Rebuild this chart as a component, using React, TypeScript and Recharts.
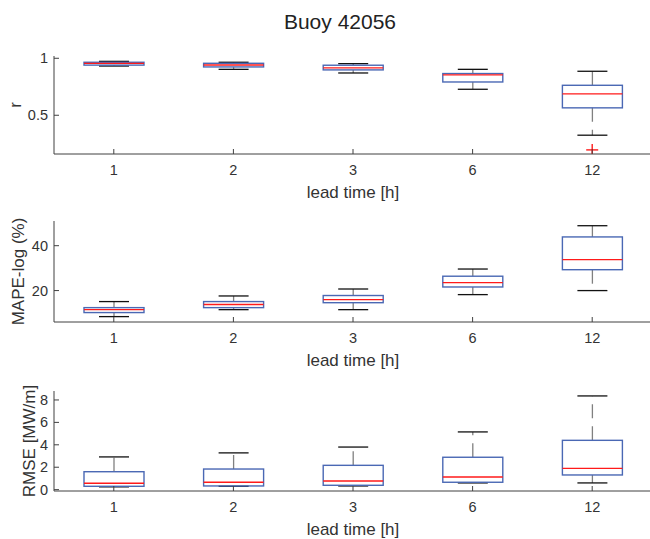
import { Bar, ComposedChart, Scatter, XAxis, YAxis } from "recharts";

const categories = ["1", "2", "3", "6", "12"];

// correlation r
const rMin = [0.932, 0.903, 0.871, 0.728, 0.325];
const rQ1 = [0.94, 0.924, 0.898, 0.792, 0.565];
const rMed = [0.956, 0.941, 0.915, 0.854, 0.687];
const rQ3 = [0.965, 0.956, 0.939, 0.866, 0.763];
const rMax = [0.973, 0.965, 0.953, 0.903, 0.886];
const rOut = [null, null, null, null, 0.196];

// MAPE-log (%)
const mapeMin = [8.4, 11.5, 11.5, 18.2, 20.0];
const mapeQ1 = [10.2, 12.4, 14.6, 21.6, 29.3];
const mapeMed = [11.5, 13.8, 16.0, 23.5, 33.8];
const mapeQ3 = [12.4, 15.1, 17.8, 26.4, 43.9];
const mapeMax = [15.1, 17.6, 20.7, 29.6, 48.9];
const mapeOut = [null, null, null, null, null];

// RMSE [MW/m]
const rmseMin = [0.25, 0.3, 0.33, 0.6, 0.6];
const rmseQ1 = [0.3, 0.33, 0.39, 0.66, 1.31];
const rmseMed = [0.57, 0.66, 0.77, 1.13, 1.9];
const rmseQ3 = [1.6, 1.84, 2.17, 2.89, 4.4];
const rmseMax = [2.92, 3.28, 3.8, 5.15, 8.36];
const rmseOut = [null, null, null, null, null];

const rTicks = [0.5, 1];
const mapeTicks = [20, 40];
const rmseTicks = [0, 2, 4, 6, 8];

const AXIS = "#404040";
const TEXT = "#333333";
const BOX = "#4a68b4";

const build = (mn: number[], q1: number[], md: number[], q3: number[], mx: number[], out: (number | null)[]) =>
  categories.map((cat, i) => ({
    cat,
    range: [mn[i], mx[i]],
    min: mn[i],
    q1: q1[i],
    med: md[i],
    q3: q3[i],
    max: mx[i],
    out: out[i],
  }));

const BoxShape = (props: any) => {
  const { x, y, width, height, payload } = props;
  if (!payload) return <g />;
  const top = Math.min(y, y + height);
  const h = Math.abs(height);
  const { min, q1, med, q3, max } = payload;
  const py = (v: number) => top + ((max - v) / (max - min)) * h;
  const cx = x + width / 2;
  return (
    <g>
      <line x1={cx} x2={cx} y1={py(q3)} y2={py(max)} stroke="#808080" strokeWidth={1.3} strokeDasharray="14 8" />
      <line x1={cx} x2={cx} y1={py(q1)} y2={py(min)} stroke="#808080" strokeWidth={1.3} strokeDasharray="14 8" />
      <line x1={cx - 15} x2={cx + 15} y1={py(max)} y2={py(max)} stroke="#111" strokeWidth={1.3} />
      <line x1={cx - 15} x2={cx + 15} y1={py(min)} y2={py(min)} stroke="#111" strokeWidth={1.3} />
      <rect x={x} y={py(q3)} width={width} height={py(q1) - py(q3)} fill="none" stroke={BOX} strokeWidth={1.4} />
      <line x1={x} x2={x + width} y1={py(med)} y2={py(med)} stroke="#ff1a1a" strokeWidth={1.3} />
    </g>
  );
};

const Plus = (props: any) => {
  const { cx, cy, payload } = props;
  if (!payload || payload.out == null || !Number.isFinite(cy)) return <g />;
  return (
    <g stroke="#ff1a1a" strokeWidth={1.4}>
      <line x1={cx - 6} x2={cx + 6} y1={cy} y2={cy} />
      <line x1={cx} x2={cx} y1={cy - 6} y2={cy + 6} />
    </g>
  );
};

const BottomTick = (props: any) => {
  const { x, y, payload } = props;
  return (
    <g>
      <line x1={x} x2={x} y1={y} y2={y - 5} stroke={AXIS} />
      <text x={x} y={y + 16} textAnchor="middle" dominantBaseline="central" fontSize={14.5} fill={TEXT}>
        {payload.value}
      </text>
    </g>
  );
};

const TopTick = (props: any) => {
  const { x, y } = props;
  return <line x1={x} x2={x} y1={y} y2={y + 5} stroke={AXIS} />;
};

const LeftTick = (props: any) => {
  const { x, y, payload } = props;
  return (
    <g>
      <line x1={x} x2={x + 5} y1={y} y2={y} stroke={AXIS} />
      <text x={x - 6} y={y} textAnchor="end" dominantBaseline="central" fontSize={14.5} fill={TEXT}>
        {payload.value}
      </text>
    </g>
  );
};

const RightTick = (props: any) => {
  const { x, y } = props;
  return <line x1={x} x2={x - 5} y1={y} y2={y} stroke={AXIS} />;
};

type PanelProps = {
  top: number;
  plotH: number;
  axisH: number;
  data: any[];
  domain: [number, number];
  ticks: number[];
  ylabel: string;
  ylabelX: number;
};

const Panel = ({ top, plotH, axisH, data, domain, ticks, ylabel, ylabelX }: PanelProps) => (
  <div style={{ position: "absolute", top, left: 0 }}>
    <ComposedChart
      width={652}
      height={16 + plotH + axisH}
      data={data}
      margin={{ top: 16, right: 0, bottom: 0, left: 0 }}
    >
      <XAxis
        xAxisId="b"
        dataKey="cat"
        orientation="bottom"
        height={axisH}
        interval={0}
        tickSize={0}
        tickMargin={0}
        tickLine={false}
        tick={<BottomTick />}
        axisLine={{ stroke: AXIS }}
        label={{ value: "lead time [h]", position: "insideTop", offset: 32, fontSize: 17, fill: TEXT }}
      />
      <XAxis
        xAxisId="t"
        dataKey="cat"
        orientation="top"
        height={0}
        interval={0}
        tickSize={0}
        tickMargin={0}
        tickLine={false}
        tick={<TopTick />}
        axisLine={{ stroke: AXIS }}
      />
      <YAxis
        yAxisId="l"
        width={54}
        type="number"
        domain={domain}
        ticks={ticks}
        interval={0}
        allowDataOverflow
        tickSize={0}
        tickMargin={0}
        tickLine={false}
        tick={<LeftTick />}
        axisLine={{ stroke: AXIS }}
        label={{
          value: ylabel,
          angle: -90,
          position: "insideLeft",
          offset: ylabelX,
          fontSize: 17,
          fill: TEXT,
          style: { textAnchor: "middle" },
        }}
      />
      <YAxis
        yAxisId="r"
        orientation="right"
        width={0}
        type="number"
        domain={domain}
        ticks={ticks}
        interval={0}
        allowDataOverflow
        tickSize={0}
        tickMargin={0}
        tickLine={false}
        tick={<RightTick />}
        axisLine={{ stroke: AXIS }}
      />
      <Bar xAxisId="b" yAxisId="l" dataKey="range" barSize={60} shape={<BoxShape />} isAnimationActive={false} />
      <Scatter xAxisId="t" yAxisId="r" dataKey="out" shape={<Plus />} isAnimationActive={false} />
    </ComposedChart>
  </div>
);

export default function App() {
  return (
    <div
      style={{
        position: "absolute",
        top: 0,
        left: 0,
        width: 650,
        height: 539,
        overflow: "hidden",
        background: "#fff",
        fontFamily: "'Liberation Sans', Arial, sans-serif",
      }}
    >
      <div
        style={{
          position: "absolute",
          top: 10,
          left: 240,
          width: 200,
          textAlign: "center",
          fontSize: 21,
          color: "#222",
        }}
      >
        Buoy 42056
      </div>
      <Panel
        top={40}
        plotH={98}
        axisH={50}
        data={build(rMin, rQ1, rMed, rQ3, rMax, rOut)}
        domain={[0.16, 1.02]}
        ticks={rTicks}
        ylabel="r"
        ylabelX={15}
      />
      <Panel
        top={205}
        plotH={101}
        axisH={50}
        data={build(mapeMin, mapeQ1, mapeMed, mapeQ3, mapeMax, mapeOut)}
        domain={[6, 51]}
        ticks={mapeTicks}
        ylabel="MAPE-log (%)"
        ylabelX={18}
      />
      <Panel
        top={375}
        plotH={100}
        axisH={48}
        data={build(rmseMin, rmseQ1, rmseMed, rmseQ3, rmseMax, rmseOut)}
        domain={[-0.12, 8.8]}
        ticks={rmseTicks}
        ylabel="RMSE [MW/m]"
        ylabelX={29}
      />
    </div>
  );
}
